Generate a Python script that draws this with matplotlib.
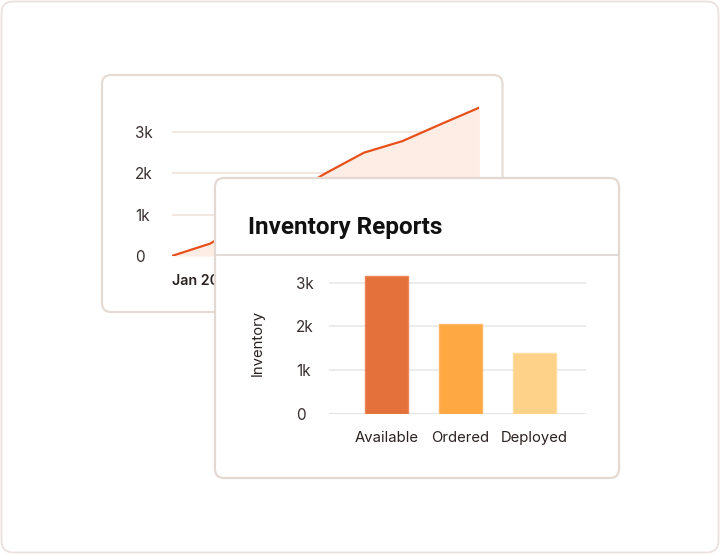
import matplotlib
matplotlib.use("Agg")
import matplotlib.pyplot as plt
from matplotlib.patches import FancyBboxPatch
from matplotlib.lines import Line2D

plt.rcParams['font.family'] = ['Inter', 'DejaVu Sans']

# data -----------------------------------------------------------------
months = ["Jan 2024", "Feb 2024", "Mar 2024", "Apr 2024", "May 2024",
          "Jun 2024", "Jul 2024", "Aug 2024", "Sep 2024"]
trend = [0, 300, 850, 1450, 2000, 2500, 2780, 3190, 3590]

categories = ["Available", "Ordered", "Deployed"]
inventory = [3160, 2060, 1390]
bar_colors = ["#e4703b", "#fda843", "#fed389"]
bar_edges = ["#ee8658", "#fdb868", "#fedd9f"]

ticks = [0, 1000, 2000, 3000]
tick_labels = ["0", "1k", "2k", "3k"]

W, H = 720, 554
fig = plt.figure(figsize=(W / 100, H / 100), dpi=100)
fig.patch.set_facecolor("white")


def card(x0, y0, x1, y1, r, ec, lw, z):
    # pixel coords from the top-left, drawn in inches so corners stay round
    p = FancyBboxPatch((x0 / 100, (H - y1) / 100), (x1 - x0) / 100, (y1 - y0) / 100,
                       boxstyle="round,pad=0,rounding_size=%f" % (r / 100),
                       transform=fig.dpi_scale_trans, facecolor="white",
                       edgecolor=ec, linewidth=lw, zorder=z)
    fig.add_artist(p)


def axes_px(x0, y0, x1, y1, z):
    ax = fig.add_axes([x0 / W, 1 - y1 / H, (x1 - x0) / W, (y1 - y0) / H])
    ax.set_zorder(z)
    ax.patch.set_alpha(0)
    for s in ax.spines.values():
        s.set_visible(False)
    return ax


card(1.5, 1.5, 718.5, 552.5, 12, "#ebe2dd", 1.3, 0)

# back card: line chart (most of it sits under the front card) ---------
card(102, 75, 502.5, 312, 9, "#e6dcd5", 1.6, 1)
ax1 = axes_px(171.7, 256 - 3.7 * 41.33, 479.3, 256, 2)
x = list(range(len(trend)))
ax1.fill_between(x, trend, 0, color="#fdede5", linewidth=0, zorder=1)
ax1.plot(x, trend, color="#e8501a", linewidth=1.6, zorder=3, solid_capstyle="round")
ax1.set_xlim(0, len(trend) - 1)
ax1.set_ylim(0, 3700)
ax1.set_yticks(ticks)
ax1.set_yticklabels(tick_labels)
ax1.set_xticks(x)
# only the first month label is visible, the rest are hidden by the front card
ax1.set_xticklabels([months[0]] + [""] * (len(months) - 1), ha="left")
ax1.grid(axis="y", color="#f3e4dd", linewidth=1.3, zorder=0)
ax1.set_axisbelow(True)
ax1.tick_params(axis="y", length=0, pad=26.4, labelsize=11, labelcolor="#3a3030")
ax1.tick_params(axis="x", length=0, pad=13, labelsize=10.3, labelcolor="#2a2220")
for t in ax1.get_yticklabels():
    t.set_ha("left")
for t in ax1.get_xticklabels():
    t.set_fontweight("semibold")

# front card: bar chart ------------------------------------------------
card(215, 178, 619, 478, 9, "#e3d9d2", 1.6, 3)
fig.add_artist(Line2D([215 / W, 619 / W], [1 - 255 / H, 1 - 255 / H],
                      color="#ddd6d1", linewidth=1.2, zorder=4))
fig.text(248 / W, 1 - 234 / H, "Inventory Reports", fontsize=17.5,
         fontweight="bold", family=["Roboto", "DejaVu Sans"], color="#111111",
         va="baseline", ha="left", zorder=5)

ax2 = axes_px(329, 414 - 3.3 * 43.77, 586, 414, 5)
pos = list(range(len(categories)))
ax2.bar(pos, inventory, width=0.58, color=bar_colors, edgecolor=bar_edges,
        linewidth=1, zorder=3)
ax2.set_xlim(-0.778, 2.695)
ax2.set_ylim(0, 3300)
ax2.set_yticks(ticks)
ax2.set_yticklabels(tick_labels)
ax2.set_xticks(pos)
ax2.set_xticklabels(categories)
ax2.grid(axis="y", color="#ececec", linewidth=1.4, zorder=0)
ax2.axhline(0, color="#e2e2e2", linewidth=2, zorder=2)
ax2.set_axisbelow(True)
ax2.tick_params(axis="y", length=0, pad=23.8, labelsize=11, labelcolor="#3a3030")
ax2.tick_params(axis="x", length=0, pad=12, labelsize=10.7, labelcolor="#2a2220")
for t in ax2.get_yticklabels():
    t.set_ha("left")
ax2.set_ylabel("Inventory", fontsize=10.7, color="#2a2220", labelpad=0)
ax2.yaxis.set_label_coords((258 - 329) / (586 - 329), (414 - 343) / 144.4)
ax2.yaxis.label.set_va("center")

fig.savefig("out.png", dpi=100)
